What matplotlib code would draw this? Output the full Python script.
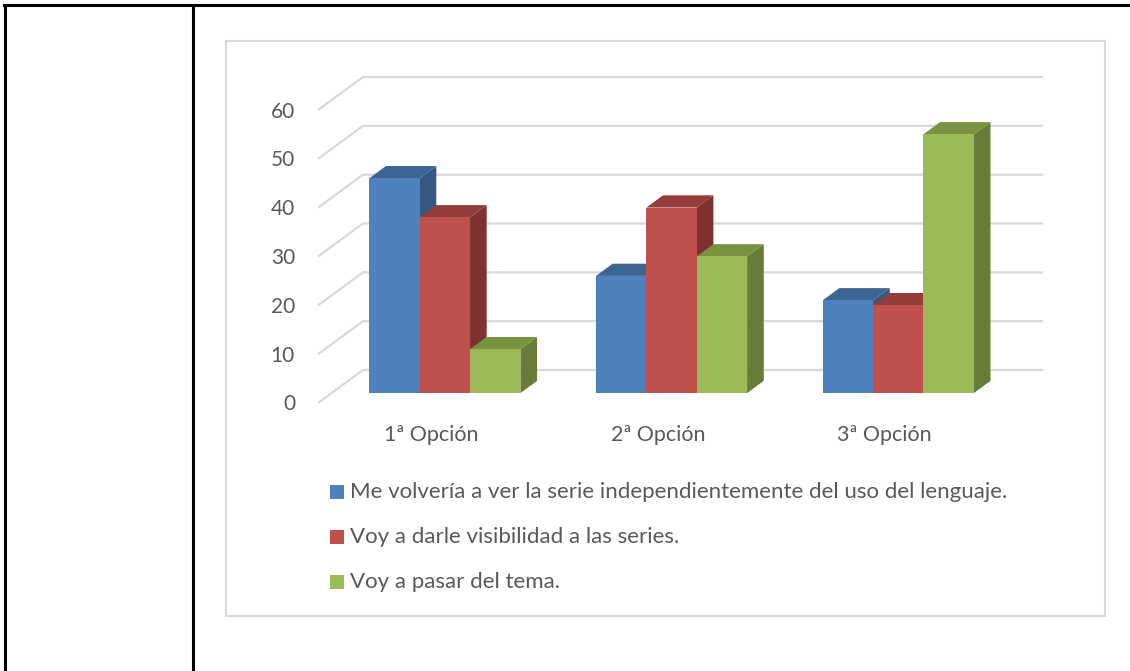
import matplotlib
matplotlib.use("Agg")
import matplotlib.pyplot as plt
from matplotlib.patches import Polygon, Rectangle
from matplotlib.lines import Line2D

# ---- data ----
categories = ["1ª Opción", "2ª Opción", "3ª Opción"]
series_names = [
    "Me volvería a ver la serie independientemente del uso del lenguaje.",
    "Voy a darle visibilidad a las series.",
    "Voy a pasar del tema.",
]
serie_ver = [44, 24, 19]
serie_visibilidad = [36, 38, 18]
serie_pasar = [9, 28, 53]
y_ticks = [0, 10, 20, 30, 40, 50, 60]

values = [serie_ver, serie_visibilidad, serie_pasar]
front_cols = ["#4F81BD", "#C0504D", "#9BBB59"]
top_cols = ["#3D6594", "#943C39", "#78933F"]
side_cols = ["#345882", "#7E312F", "#667C37"]

W, H = 1130, 671
DPI = 100
fig = plt.figure(figsize=(W / DPI, H / DPI), dpi=DPI)
plt.rcParams['font.family'] = ['Lato', 'DejaVu Sans']
TXT = "#595959"

# ---- table borders (figure pixel coords) ----
def px_line(x0, y0, x1, y1, **kw):
    fig.add_artist(Line2D([x0 / W, x1 / W], [1 - y0 / H, 1 - y1 / H],
                          transform=fig.transFigure, **kw))

px_line(4, 5, 1130, 5, color="black", lw=2.2)
px_line(5, 5, 5, 671, color="black", lw=2.2)
px_line(193, 5, 193, 671, color="black", lw=2.2)

# chart frame
fig.add_artist(Rectangle((226 / W, 1 - 616 / H), (1105 - 226) / W, (616 - 41) / H,
                         transform=fig.transFigure, fill=False,
                         edgecolor="#D9D9D9", lw=1.5))

# ---- plot axes: spans px x 318..1044, y 76..403 ----
ax_left, ax_right, ax_top, ax_bot = 318, 1044, 76, 403
ax = fig.add_axes([ax_left / W, 1 - ax_bot / H, (ax_right - ax_left) / W,
                   (ax_bot - ax_top) / H])
px_per_cat = 226.7
px_per_unit = 4.883
xmin = -0.5
xmax = xmin + (ax_right - ax_left) / px_per_cat
ymax = (ax_bot - ax_top) / px_per_unit
ax.set_xlim(xmin, xmax)
ax.set_ylim(0, ymax)
ax.axis("off")

DX = 45 / px_per_cat      # full depth offset in x data units
DY = 33 / px_per_unit     # full depth offset in y data units
x_end = len(categories) - 0.5

# gridlines (wall + back)
for v in y_ticks:
    ax.plot([xmin, xmin + DX, x_end + DX], [v, v + DY, v + DY],
            color="#D9D9D9", lw=1.6, clip_on=False, zorder=1,
            solid_capstyle="butt")
    ax.text(xmin - 23 / px_per_cat, v - 1.5 / px_per_unit, str(v),
            ha="right", va="center", fontsize=15, color=TXT)

# bars
bw = 0.2222
d0, d1 = 0.30, 0.67
a0, b0 = d0 * DX, d0 * DY
a1, b1 = d1 * DX, d1 * DY
z = 2
for j in range(len(categories)):
    for i in range(len(values)):
        v = values[i][j]
        x0 = j - 1.5 * bw + i * bw
        # side
        ax.add_patch(Polygon([(x0 + bw + a0, b0), (x0 + bw + a1, b1),
                              (x0 + bw + a1, v + b1), (x0 + bw + a0, v + b0)],
                             closed=True, facecolor=side_cols[i],
                             edgecolor="none", zorder=z, clip_on=False))
        # top
        ax.add_patch(Polygon([(x0 + a0, v + b0), (x0 + bw + a0, v + b0),
                              (x0 + bw + a1, v + b1), (x0 + a1, v + b1)],
                             closed=True, facecolor=top_cols[i],
                             edgecolor="none", zorder=z, clip_on=False))
        # front
        ax.add_patch(Rectangle((x0 + a0, b0), bw, v, facecolor=front_cols[i],
                               edgecolor="none", zorder=z + 0.5, clip_on=False))
        z += 1

# category labels
for j, c in enumerate(categories):
    ax.text(j, -32 / px_per_unit, c, ha="center", va="center",
            fontsize=15.5, color=TXT)

# ---- legend (figure pixel coords) ----
leg_rows = [492, 537, 582]
for i, name in enumerate(series_names):
    yc = leg_rows[i]
    fig.add_artist(Rectangle((330 / W, 1 - (yc + 7) / H), 14 / W, 14 / H,
                             transform=fig.transFigure,
                             facecolor=front_cols[i], edgecolor="none"))
    fig.text(350 / W, 1 - yc / H, name, ha="left", va="center",
             fontsize=16, color=TXT)

fig.savefig("out.png", dpi=DPI)
